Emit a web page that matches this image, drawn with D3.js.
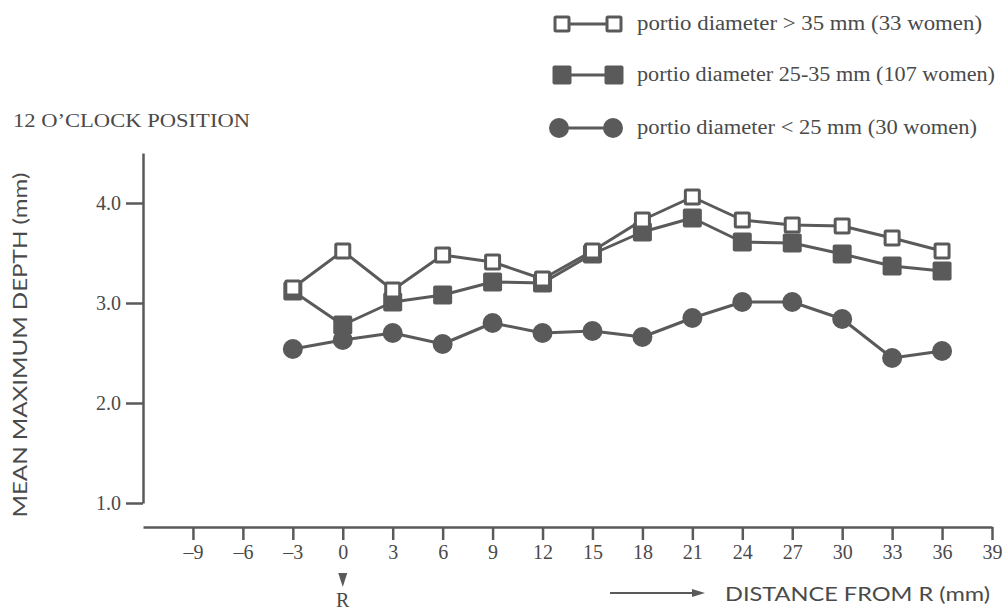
<!DOCTYPE html>
<html>
<head>
<meta charset="utf-8">
<script src="https://cdn.jsdelivr.net/npm/d3@7"></script>
<style>
  html, body { margin: 0; padding: 0; background: #fff; }
  svg { display: block; }
  .serif { font-family: "Liberation Serif", "Times New Roman", serif; fill: #4a4a4a; }
  .sans { font-family: Lato, "Open Sans", sans-serif; fill: #4a4a4a; }
</style>
</head>
<body>
<svg id="chart" width="1008" height="612"></svg>
<script>
// Distance from the reference point R (mm), one reading every 3 mm
const distances = [-3, 0, 3, 6, 9, 12, 15, 18, 21, 24, 27, 30, 33, 36];

// Mean maximum depth (mm) per portio diameter group
const depthLarge  = [3.15, 3.52, 3.13, 3.48, 3.41, 3.24, 3.52, 3.83, 4.06, 3.83, 3.78, 3.77, 3.65, 3.52];
const depthMedium = [3.12, 2.78, 3.01, 3.08, 3.21, 3.20, 3.49, 3.71, 3.85, 3.61, 3.60, 3.49, 3.37, 3.32];
const depthSmall  = [2.54, 2.63, 2.70, 2.59, 2.80, 2.70, 2.72, 2.66, 2.85, 3.01, 3.01, 2.84, 2.45, 2.52];

const legendLabels = [
  "portio diameter > 35 mm (33 women)",
  "portio diameter 25-35 mm (107 women)",
  "portio diameter < 25 mm (30 women)"
];

const xTicks = [-9, -6, -3, 0, 3, 6, 9, 12, 15, 18, 21, 24, 27, 30, 33, 36, 39];
const yTicks = [1, 2, 3, 4];

const ink = "#5a5a5a";
const svg = d3.select("#chart");

const x = d3.scaleLinear().domain([-12, 39]).range([143, 992]);
const y = d3.scaleLinear().domain([1, 4.5]).range([503, 153]);

// Y axis
const yAxis = svg.append("g")
  .attr("transform", "translate(143,0)")
  .call(d3.axisLeft(y).tickValues(yTicks).tickSize(17).tickSizeOuter(0).tickPadding(5)
    .tickFormat(d3.format(".1f")));
yAxis.select(".domain").attr("stroke", ink).attr("stroke-width", 2.5);
yAxis.selectAll(".tick line").attr("stroke", ink).attr("stroke-width", 2.5);
yAxis.selectAll(".tick text").attr("class", "serif").attr("font-size", 20).attr("fill", "#4a4a4a");

// X axis
const xAxis = svg.append("g")
  .attr("transform", "translate(0,527)")
  .call(d3.axisBottom(x).tickValues(xTicks).tickSize(13).tickSizeOuter(0).tickPadding(5)
    .tickFormat(d => d < 0 ? "\u2013" + Math.abs(d) : String(d)));
xAxis.select(".domain").attr("stroke", ink).attr("stroke-width", 2.5);
xAxis.selectAll(".tick line").attr("stroke", ink).attr("stroke-width", 2.5);
xAxis.selectAll(".tick text").attr("class", "serif").attr("font-size", 20).attr("fill", "#4a4a4a");

// Titles
svg.append("text").attr("class", "serif").attr("x", 13).attr("y", 127)
  .attr("font-size", 19).attr("textLength", 237).attr("lengthAdjust", "spacingAndGlyphs")
  .text("12 O\u2019CLOCK POSITION");

svg.append("text").attr("class", "sans")
  .attr("transform", "translate(27,345) rotate(-90)")
  .attr("text-anchor", "middle").attr("font-size", 19)
  .attr("textLength", 345).attr("lengthAdjust", "spacingAndGlyphs")
  .text("MEAN MAXIMUM DEPTH (mm)");

svg.append("text").attr("class", "sans").attr("x", 725).attr("y", 601)
  .attr("font-size", 19).attr("textLength", 265).attr("lengthAdjust", "spacingAndGlyphs")
  .text("DISTANCE FROM R (mm)");

// Direction arrow before the x title
svg.append("line").attr("x1", 610).attr("x2", 694).attr("y1", 593).attr("y2", 593)
  .attr("stroke", ink).attr("stroke-width", 2);
svg.append("path").attr("d", "M692,589 L705,593 L692,597 Z").attr("fill", ink);

// Reference mark R under zero
const x0 = x(0);
svg.append("path").attr("d", `M${x0 - 4.5},573 L${x0 + 4.5},573 L${x0},587 Z`).attr("fill", ink);
svg.append("text").attr("class", "serif").attr("x", x0).attr("y", 607)
  .attr("text-anchor", "middle").attr("font-size", 20).text("R");

// Series
const series = [
  { key: "small",  values: depthSmall,  shape: "circle" },
  { key: "medium", values: depthMedium, shape: "filled" },
  { key: "large",  values: depthLarge,  shape: "open" }
];

const line = d3.line().x(d => x(d[0])).y(d => y(d[1]));

function drawMarker(g, shape, cx, cy) {
  if (shape === "circle") {
    g.append("circle").attr("cx", cx).attr("cy", cy).attr("r", 10).attr("fill", ink);
  } else if (shape === "filled") {
    g.append("rect").attr("x", cx - 9.5).attr("y", cy - 9.5).attr("width", 19).attr("height", 19)
      .attr("rx", 2).attr("fill", ink);
  } else {
    g.append("rect").attr("x", cx - 7).attr("y", cy - 7).attr("width", 14).attr("height", 14)
      .attr("rx", 1).attr("fill", "#fff").attr("stroke", ink).attr("stroke-width", 3);
  }
}

series.forEach(s => {
  const pts = distances.map((d, i) => [d, s.values[i]]);
  const g = svg.append("g");
  g.append("path").attr("d", line(pts)).attr("fill", "none")
    .attr("stroke", ink).attr("stroke-width", 3).attr("stroke-linejoin", "round");
  pts.forEach(p => drawMarker(g, s.shape, x(p[0]), y(p[1])));
});

// Legend
const legendRows = [
  { shape: "open",   cy: 24,  x1: 562, x2: 614, label: legendLabels[0], width: 345 },
  { shape: "filled", cy: 75,  x1: 562, x2: 614, label: legendLabels[1], width: 358 },
  { shape: "circle", cy: 128, x1: 559, x2: 613, label: legendLabels[2], width: 340 }
];
legendRows.forEach(r => {
  const g = svg.append("g");
  g.append("line").attr("x1", r.x1).attr("x2", r.x2).attr("y1", r.cy).attr("y2", r.cy)
    .attr("stroke", ink).attr("stroke-width", 3);
  drawMarker(g, r.shape, r.x1, r.cy);
  drawMarker(g, r.shape, r.x2, r.cy);
  g.append("text").attr("class", "serif").attr("x", 637).attr("y", r.cy + 6)
    .attr("font-size", 20).attr("textLength", r.width).attr("lengthAdjust", "spacingAndGlyphs")
    .text(r.label);
});
</script>
</body>
</html>
